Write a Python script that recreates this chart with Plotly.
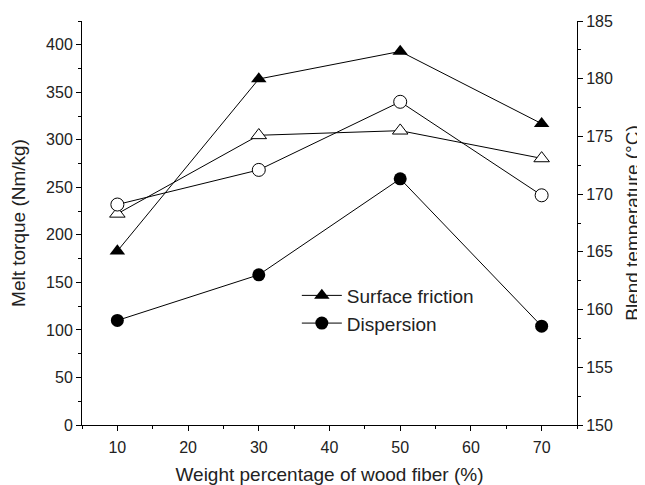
import plotly.graph_objects as go

# Data
fiber_pct = [10, 30, 50, 70]
torque_surface_friction = [183, 364, 393, 317]
torque_dispersion = [110, 158, 259, 104]
temp_surface_friction = [168.3, 175.1, 175.5, 173.1]
temp_dispersion = [169.1, 172.1, 178.0, 169.9]

x_ticks = [10, 20, 30, 40, 50, 60, 70]
left_ticks = [0, 50, 100, 150, 200, 250, 300, 350, 400]
right_ticks = [150, 155, 160, 165, 170, 175, 180, 185]

FONT = "Liberation Sans, Arial, sans-serif"
INK = "#222222"

fig = go.Figure()

fig.add_trace(go.Scatter(
    x=fiber_pct, y=torque_surface_friction, name="Surface friction",
    mode="lines+markers", line=dict(color="black", width=1),
    marker=dict(symbol="triangle-up", size=13.5, color="black"),
))
fig.add_trace(go.Scatter(
    x=fiber_pct, y=torque_dispersion, name="Dispersion",
    mode="lines+markers", line=dict(color="black", width=1),
    marker=dict(symbol="circle", size=13, color="black"),
))
fig.add_trace(go.Scatter(
    x=fiber_pct, y=temp_surface_friction, name="Surface friction (temp)",
    mode="lines+markers", line=dict(color="black", width=1),
    marker=dict(symbol="triangle-up", size=13.5, color="white",
                line=dict(color="black", width=1)),
    yaxis="y2", showlegend=False,
))
fig.add_trace(go.Scatter(
    x=fiber_pct, y=temp_dispersion, name="Dispersion (temp)",
    mode="lines+markers", line=dict(color="black", width=1),
    marker=dict(symbol="circle", size=13, color="white",
                line=dict(color="black", width=1)),
    yaxis="y2", showlegend=False,
))

axis_common = dict(
    showline=True, linecolor="black", linewidth=1,
    ticks="outside", ticklen=5, tickwidth=1, tickcolor="black",
    showgrid=False, zeroline=False, automargin=False,
    tickfont=dict(family=FONT, size=16, color=INK),
)

# page body has an 8px default margin, so the figure is sized to fit the window
fig.update_layout(
    width=637, height=477,
    paper_bgcolor="white", plot_bgcolor="white",
    margin=dict(l=74, r=68, t=13, b=60),
    font=dict(family=FONT, color=INK),
    xaxis=dict(
        range=[5, 75], tickvals=x_ticks, ticklabelstandoff=3,
        minor=dict(dtick=5, tick0=5, ticks="outside", ticklen=3, tickcolor="black"),
        title=dict(text="Weight percentage of wood fiber (%)",
                   font=dict(family=FONT, size=19, color=INK), standoff=16),
        **axis_common,
    ),
    yaxis=dict(
        range=[0, 425], tickvals=left_ticks,
        minor=dict(dtick=25, tick0=0, ticks="outside", ticklen=3, tickcolor="black"),
        title=dict(text="Melt torque (Nm/kg)",
                   font=dict(family=FONT, size=19, color=INK), standoff=24),
        **axis_common,
    ),
    yaxis2=dict(
        range=[150, 185], tickvals=right_ticks, overlaying="y", side="right",
        minor=dict(dtick=2.5, tick0=150, ticks="outside", ticklen=3, tickcolor="black"),
        title=dict(text="Blend temperature (°C)",
                   font=dict(family=FONT, size=19, color=INK), standoff=13),
        **axis_common,
    ),
    legend=dict(
        x=0.434, y=0.3675, xanchor="left", yanchor="top",
        bgcolor="rgba(0,0,0,0)", borderwidth=0,
        font=dict(family=FONT, size=19, color=INK),
        tracegroupgap=0, itemwidth=40,
    ),
)

fig.write_html("out.html")
